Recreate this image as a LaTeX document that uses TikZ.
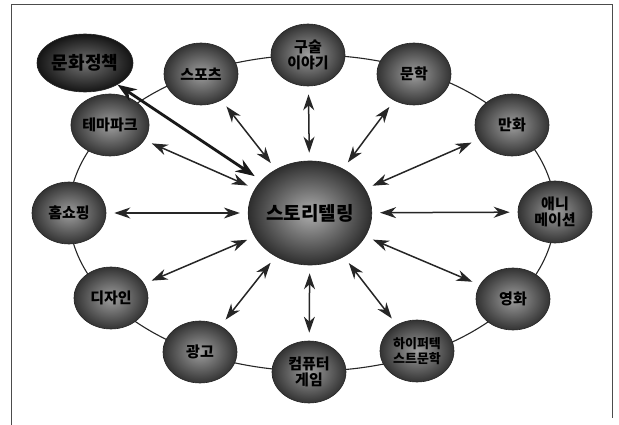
\documentclass[tikz,border=0pt]{standalone}
\usepackage{fontspec}
\newfontfamily\kr{Noto Sans CJK KR}
\usetikzlibrary{shapes.geometric,arrows.meta}
\begin{document}
\begin{tikzpicture}[x=1pt,y=-1pt,
  sat/.style={ellipse, draw=black!85, line width=0.6pt, shade, inner color=black!38, outer color=black!80,
    minimum width=74pt, minimum height=62pt, inner sep=0pt, align=center,
    font=\kr\bfseries\fontsize{15}{16}\selectfont, text=black},
  hub/.style={sat, minimum width=122pt, minimum height=104pt, inner color=black!32, outer color=black!82,
    font=\kr\bfseries\fontsize{19}{21}\selectfont},
  darksat/.style={sat, minimum width=96pt, minimum height=58pt, inner color=black!55, outer color=black!92,
    font=\kr\bfseries\fontsize{18}{20}\selectfont},
  link/.style={black!85, line width=1.5pt,
    {Stealth[length=16pt,width=11pt,inset=5pt]}-{Stealth[length=16pt,width=11pt,inset=5pt]},
    shorten <=8pt, shorten >=8pt},
  biglink/.style={black!90, line width=2.8pt,
    {Stealth[length=19pt,width=14pt,inset=6pt]}-{Stealth[length=19pt,width=14pt,inset=6pt]},
    shorten <=0pt, shorten >=8pt},
  ring/.style={black!85, line width=1.1pt},
  frame/.style={black!70, line width=1pt}
]
\useasboundingbox (0,0) rectangle (619,425);
\draw[frame] (11,425) -- (11,5) -- (612,5) -- (612,418);
\draw[ring] (312,213) ellipse [x radius=243pt, y radius=158pt];

\node[hub] (c) at (310,213) {스토리텔링};
\node[sat] (oral) at (308,55) {구술\\이야기};
\node[sat] (lit) at (414,74) {문학};
\node[sat] (comic) at (512,125) {만화};
\node[sat] (ani) at (555,212) {애니\\메이션};
\node[sat] (film) at (513,299) {영화};
\node[sat, font=\kr\bfseries\fontsize{13}{15}\selectfont] (hyper) at (417,351) {하이퍼텍\\스트문학};
\node[sat] (game) at (309,372) {컴퓨터\\게임};
\node[sat] (ad) at (200,352) {광고};
\node[sat] (design) at (111,298) {디자인};
\node[sat] (home) at (69,213) {홈쇼핑};
\node[sat] (theme) at (110,125) {테마파크};
\node[sat] (sport) at (201,74) {스포츠};
\node[darksat] (policy) at (85,63) {문화정책};

\foreach \n in {oral,lit,comic,ani,film,hyper,game,ad,design,home,theme,sport}
  \draw[link] (\n) -- (c);
\draw[biglink] (policy) -- (c);
\end{tikzpicture}
\end{document}
